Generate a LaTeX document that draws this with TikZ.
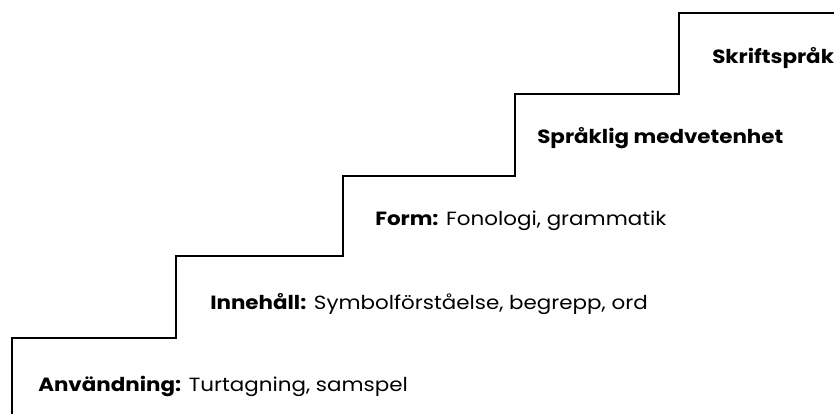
\documentclass[tikz,border=0pt]{standalone}
\usepackage{xcolor}
\usepackage{tikz}
\usepackage{fontspec}
\setmainfont[FakeStretch=1.12]{Poppins}
\tikzset{
  steptext/.style={anchor=base west, inner sep=0pt, font=\fontsize{13.6pt}{16pt}\selectfont},
  stairline/.style={draw=black, line width=1.1pt, line join=miter}
}

\begin{document}
\begin{tikzpicture}%
\useasboundingbox (0,0) rectangle (20.85,10.35);%
\draw[stairline] (0.3,0) -- (0.3,1.9) -- (4.4,1.9) -- (4.4,3.95) -- (8.575,3.95) -- (8.575,5.95) -- (12.875,5.95) -- (12.875,8.0) -- (16.975,8.0) -- (16.975,10.025) -- (20.85,10.025);%
\node[steptext] (anv) at (0.95, 0.558) {\textbf{Användning:} Turtagning, samspel};%
\node[steptext] (inn) at (5.25, 2.625) {\textbf{Innehåll:} Symbolförståelse, begrepp, ord};%
\node[steptext] (form) at (9.375, 4.725) {\textbf{Form:} Fonologi, grammatik};%
\node[steptext] (medv) at (13.425, 6.775) {\textbf{Språklig medvetenhet}};%
\node[steptext] (skrift) at (17.8, 8.768) {\textbf{Skriftspråk}};%
\end{tikzpicture}
\end{document}
